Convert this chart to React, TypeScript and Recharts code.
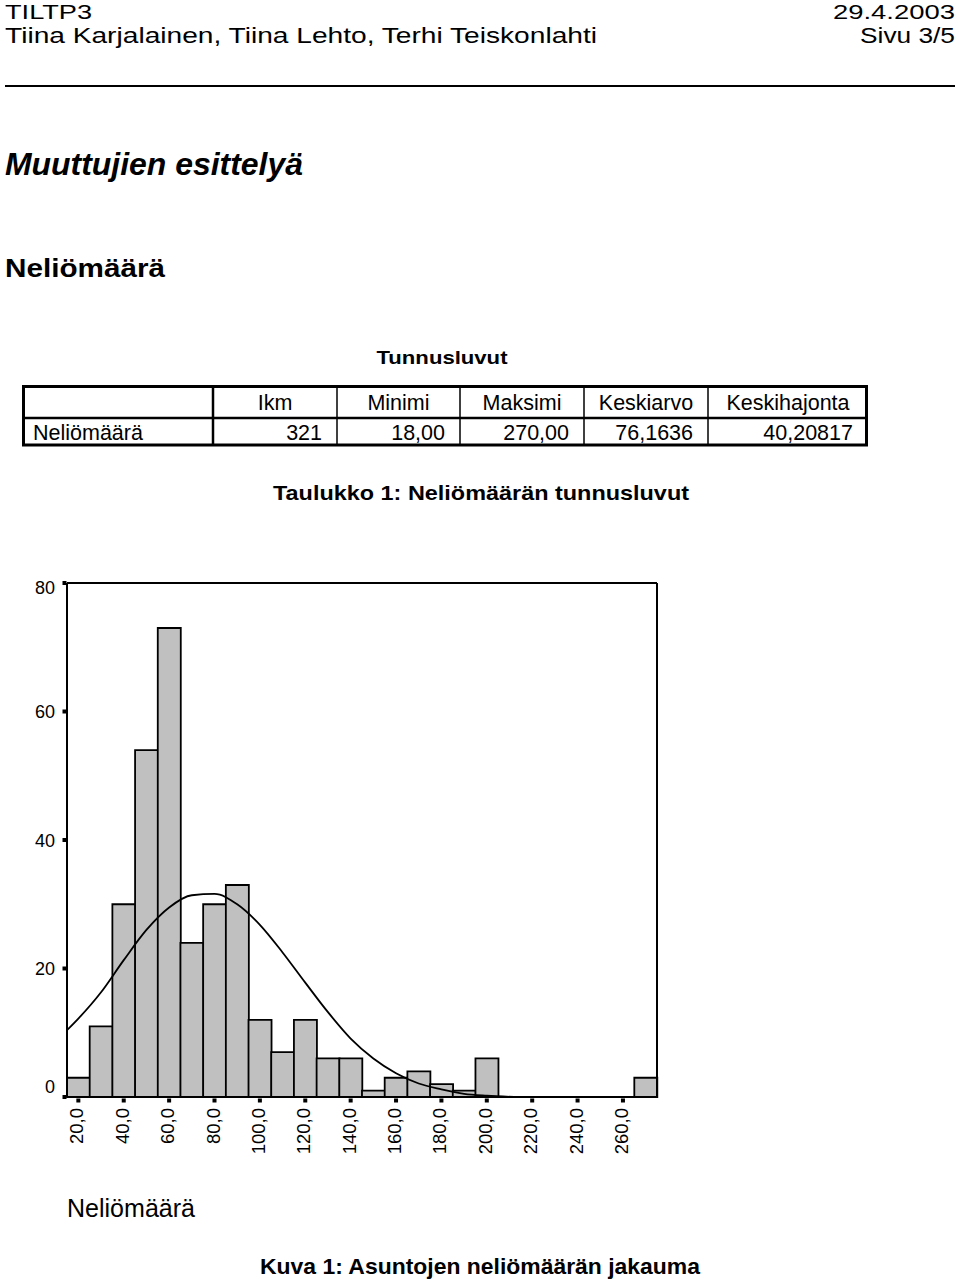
import React from 'react';
import { ComposedChart, Bar, Line, XAxis, YAxis, ReferenceLine } from 'recharts';

// ---- data ----
const binCenters = [20, 30, 40, 50, 60, 70, 80, 90, 100, 110, 120, 130, 140, 150, 160, 170, 180, 190, 200, 210, 220, 230, 240, 250, 260, 270];
const binCounts = [3, 11, 30, 54, 73, 24, 30, 33, 12, 7, 12, 6, 6, 1, 3, 4, 2, 1, 6, 0, 0, 0, 0, 0, 0, 3];
const curveX = [15, 20, 30, 40, 50, 60, 70, 80, 90, 100, 110, 120, 130, 140, 150, 160, 170, 180, 190, 200, 212];
const curveY = [10.4, 12.2, 16.3, 21.3, 26.0, 29.5, 31.4, 31.6, 30.0, 26.8, 22.5, 17.8, 13.2, 9.1, 6.0, 3.7, 2.1, 1.2, 0.5, 0.2, 0];
const xTicks = [20, 40, 60, 80, 100, 120, 140, 160, 180, 200, 220, 240, 260];
const yTicks = [0, 20, 40, 60, 80];

const tableHeaders = ['Ikm', 'Minimi', 'Maksimi', 'Keskiarvo', 'Keskihajonta'];
const tableValues = ['321', '18,00', '270,00', '76,1636', '40,20817'];
const tableRowLabel = 'Neliömäärä';

const barData = binCenters.map((b, i) => ({ bin: b, count: binCounts[i] }));
const curveData = curveX.map((x, i) => ({ x, y: curveY[i] }));

const FONT = '"Liberation Sans", Arial, sans-serif';

const YTick = (props: any) => {
  const { x, y, payload } = props;
  const v = payload.value;
  let by = y + 6.5;
  if (v === 80) by = y + 10.5;
  if (v === 0) by = y - 4;
  return (
    <g>
      <rect x={x - 4.5} y={y - 2} width={4} height={4} fill="#000" />
      <text x={x - 12} y={by} textAnchor="end" fontSize={18} fontFamily={FONT} fill="#000">
        {v}
      </text>
    </g>
  );
};

const XTick = (props: any) => {
  const { x, y, payload } = props;
  const tx = x + 5;
  const ty = y + 11;
  return (
    <g>
      <rect x={x - 2} y={y + 1.5} width={4} height={4} fill="#000" />
      <text
        x={tx}
        y={ty}
        textAnchor="end"
        fontSize={18.5}
        fontFamily={FONT}
        fill="#000"
        transform={`rotate(-90, ${tx}, ${ty})`}
      >
        {`${payload.value},0`}
      </text>
    </g>
  );
};

const colEdges = [22, 213, 337, 460, 584, 708, 868];

export default function App() {
  return (
    <div style={{ position: 'absolute', left: 0, top: 0, width: 960, height: 1279, background: '#fff', overflow: 'hidden' }}>
      <svg width={960} height={1279} style={{ position: 'absolute', left: 0, top: 0 }} fontFamily={FONT}>
        <text x={5} y={19} fontSize={21} textLength={87} lengthAdjust="spacingAndGlyphs">TILTP3</text>
        <text x={955} y={19} fontSize={21} textAnchor="end" textLength={122} lengthAdjust="spacingAndGlyphs">29.4.2003</text>
        <text x={5} y={43} fontSize={22} textLength={592} lengthAdjust="spacingAndGlyphs">Tiina Karjalainen, Tiina Lehto, Terhi Teiskonlahti</text>
        <text x={955} y={43} fontSize={22} textAnchor="end" textLength={95} lengthAdjust="spacingAndGlyphs">Sivu 3/5</text>
        <line x1={5} y1={86} x2={955} y2={86} stroke="#000" strokeWidth={2} />

        <text x={5} y={175} fontSize={31} fontWeight="bold" fontStyle="italic" textLength={298} lengthAdjust="spacingAndGlyphs">Muuttujien esittelyä</text>
        <text x={5} y={277} fontSize={26} fontWeight="bold" textLength={160} lengthAdjust="spacingAndGlyphs">Neliömäärä</text>

        <text x={442} y={364} fontSize={19} fontWeight="bold" textAnchor="middle" textLength={131} lengthAdjust="spacingAndGlyphs">Tunnusluvut</text>

        {/* table */}
        <rect x={23.5} y={386.5} width={843} height={58.5} fill="none" stroke="#000" strokeWidth={3} />
        <line x1={22} y1={418} x2={868} y2={418} stroke="#000" strokeWidth={2.5} />
        {colEdges.slice(1, -1).map((cx, i) => (
          <line key={cx} x1={cx} y1={386} x2={cx} y2={445} stroke="#000" strokeWidth={i === 0 ? 2.5 : 1.5} />
        ))}
        {tableHeaders.map((h, i) => (
          <text key={h} x={(colEdges[i + 1] + colEdges[i + 2]) / 2} y={410} fontSize={21.5} textAnchor="middle">{h}</text>
        ))}
        <text x={33} y={440} fontSize={21.5}>{tableRowLabel}</text>
        {tableValues.map((v, i) => (
          <text key={v} x={colEdges[i + 2] - 15} y={440} fontSize={21.5} textAnchor="end">{v}</text>
        ))}

        <text x={481} y={500} fontSize={21} fontWeight="bold" textAnchor="middle" textLength={416} lengthAdjust="spacingAndGlyphs">Taulukko 1: Neliömäärän tunnusluvut</text>

        <text x={67} y={1217} fontSize={25} textLength={128} lengthAdjust="spacingAndGlyphs">Neliömäärä</text>
        <text x={260} y={1274} fontSize={22} fontWeight="bold" textLength={440} lengthAdjust="spacingAndGlyphs">Kuva 1: Asuntojen neliömäärän jakauma</text>
      </svg>

      <div style={{ position: 'absolute', left: 0, top: 560, width: 700, height: 620 }}>
        <ComposedChart
          width={700}
          height={620}
          data={barData}
          margin={{ top: 23, right: 43, bottom: 23, left: 0 }}
          barCategoryGap={0}
          barGap={0}
        >
          <XAxis xAxisId="bins" dataKey="bin" type="category" hide height={0} />
          <XAxis
            xAxisId="val"
            dataKey="x"
            type="number"
            domain={[15, 275]}
            allowDataOverflow
            ticks={xTicks}
            interval={0}
            height={60}
            axisLine={{ stroke: '#000', strokeWidth: 2 }}
            tickLine={false}
            tickSize={0}
            tickMargin={0}
            tick={<XTick />}
          />
          <YAxis
            yAxisId="c"
            type="number"
            domain={[0, 80]}
            ticks={yTicks}
            interval={0}
            width={67}
            axisLine={{ stroke: '#000', strokeWidth: 2 }}
            tickLine={false}
            tickSize={0}
            tickMargin={0}
            tick={<YTick />}
          />
          <Bar
            xAxisId="bins"
            yAxisId="c"
            dataKey="count"
            fill="#c0c0c0"
            stroke="#000"
            strokeWidth={1.8}
            isAnimationActive={false}
          />
          <Line
            xAxisId="val"
            yAxisId="c"
            data={curveData}
            dataKey="y"
            type="monotone"
            stroke="#000"
            strokeWidth={1.8}
            dot={false}
            activeDot={false}
            isAnimationActive={false}
          />
          <ReferenceLine xAxisId="val" yAxisId="c" y={80} stroke="#000" strokeWidth={2} />
          <ReferenceLine xAxisId="val" yAxisId="c" x={275} stroke="#000" strokeWidth={2} />
        </ComposedChart>
      </div>
    </div>
  );
}
